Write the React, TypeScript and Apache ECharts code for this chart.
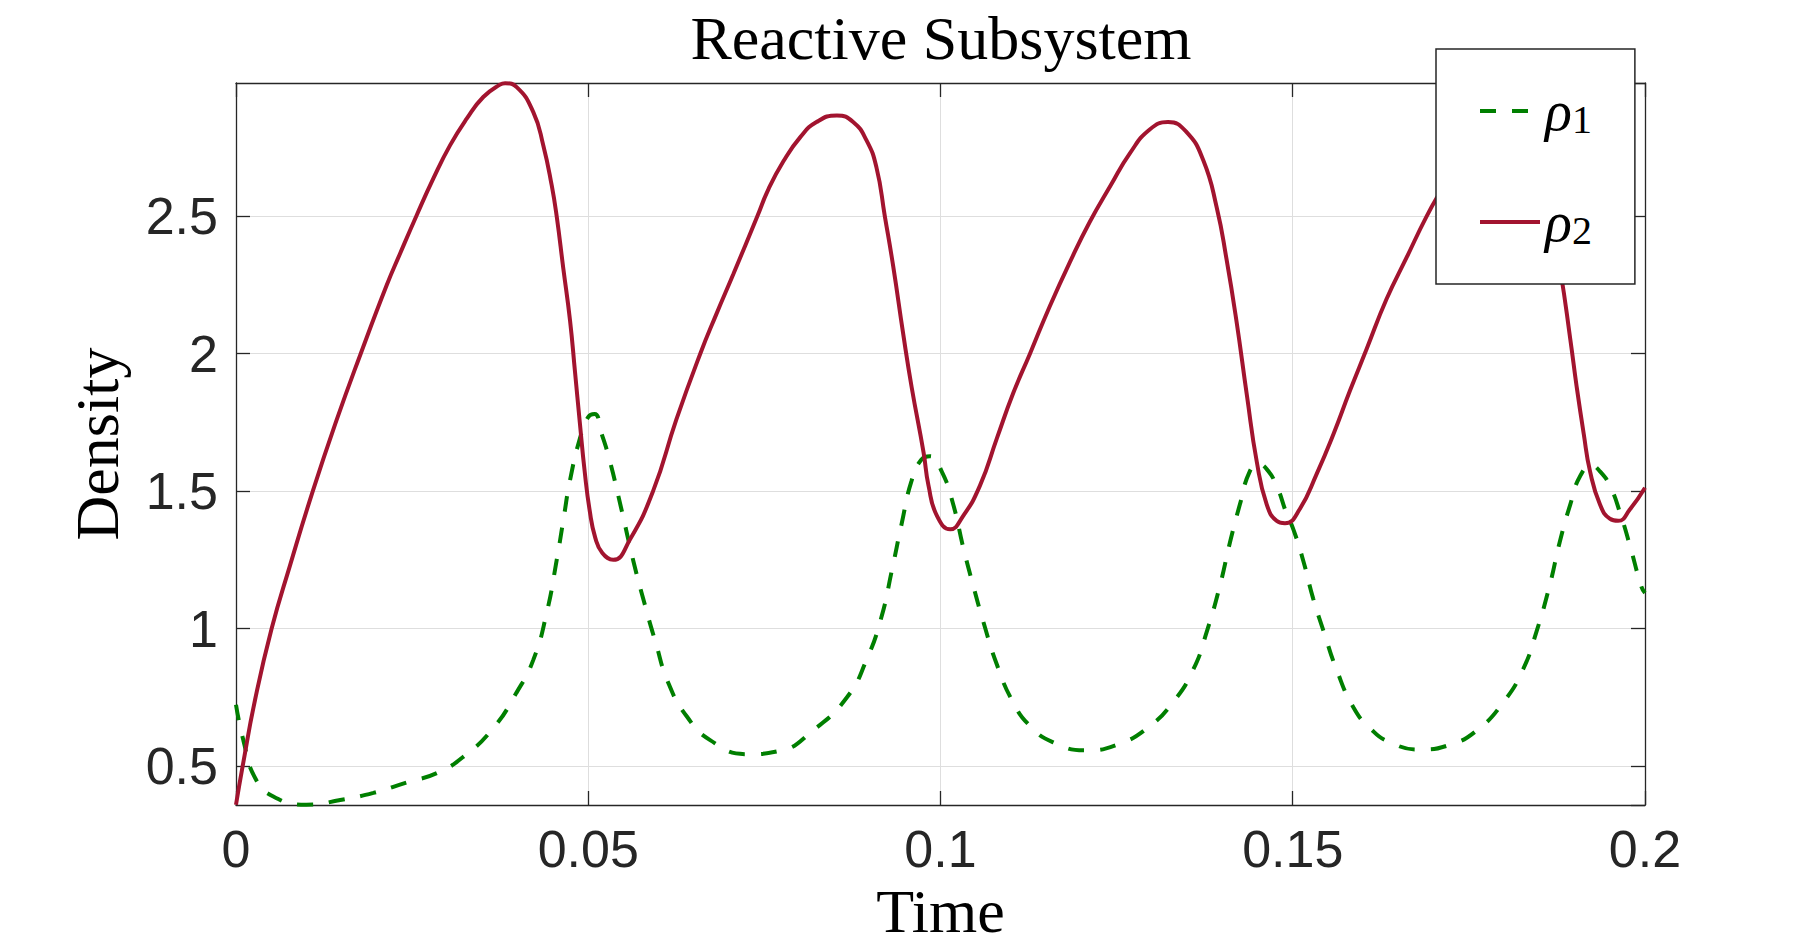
import React, { useEffect, useRef } from "react";
import * as echarts from "echarts";

// ---- data ----
const xTicks = [0, 0.05, 0.1, 0.15, 0.2];

const rho1Time = [
  0, 0.00104, 0.0027, 0.0053, 0.01, 0.0148, 0.0195, 0.0242, 0.0285, 0.0323,
  0.0365, 0.0398, 0.0422, 0.0441, 0.0455, 0.0465, 0.0474, 0.0488, 0.05, 0.0509,
  0.0519, 0.0531, 0.0547, 0.0564, 0.058, 0.0595, 0.0614, 0.064, 0.0673, 0.0725,
  0.0772, 0.0819, 0.0867, 0.0895, 0.0916, 0.0931, 0.0945, 0.0959, 0.0973, 0.0985,
  0.1002, 0.1018, 0.1032, 0.1046, 0.1061, 0.108, 0.1103, 0.1127, 0.116, 0.1207,
  0.125, 0.1293, 0.133, 0.1359, 0.1378, 0.1397, 0.1411, 0.1425, 0.1439, 0.1451,
  0.1463, 0.1477, 0.1491, 0.1501, 0.1515, 0.1529, 0.1544, 0.1562, 0.1586, 0.161,
  0.1638, 0.1681, 0.1723, 0.1761, 0.1799, 0.1827, 0.1846, 0.1865, 0.1879, 0.1894,
  0.1908, 0.1924, 0.1936, 0.195, 0.1965, 0.1979, 0.1995, 0.2,
];
const rho1Values = [
  0.723, 0.594, 0.457, 0.389, 0.359, 0.376, 0.402, 0.44, 0.474, 0.534,
  0.637, 0.766, 0.886, 1.057, 1.246, 1.4, 1.538, 1.69, 1.77, 1.781,
  1.709, 1.606, 1.435, 1.246, 1.09, 0.955, 0.8, 0.68, 0.594, 0.543,
  0.555, 0.629, 0.749, 0.886, 1.04, 1.212, 1.383, 1.538, 1.615, 1.627,
  1.57, 1.452, 1.298, 1.16, 1.023, 0.869, 0.732, 0.646, 0.586, 0.557,
  0.577, 0.637, 0.732, 0.852, 0.989, 1.16, 1.315, 1.452, 1.572, 1.598,
  1.58, 1.52, 1.42, 1.36, 1.246, 1.109, 0.989, 0.852, 0.714, 0.637,
  0.586, 0.56, 0.577, 0.629, 0.732, 0.852, 0.989, 1.16, 1.315, 1.452,
  1.555, 1.593, 1.572, 1.52, 1.418, 1.298, 1.152, 1.13,
];

const rho2Time = [
  0, 0.00095, 0.0027, 0.00506, 0.00766, 0.0109, 0.0143, 0.0177, 0.0214, 0.02328,
  0.02565, 0.028, 0.03038, 0.03275, 0.0351, 0.03747, 0.0382, 0.03984, 0.0422, 0.04362,
  0.04481, 0.04552, 0.04646, 0.04741, 0.04812, 0.0488, 0.0495, 0.0502, 0.051, 0.052,
  0.05355, 0.0559, 0.0592, 0.0625, 0.0659, 0.0682, 0.0706, 0.074, 0.0756, 0.0777,
  0.0801, 0.0824, 0.0853, 0.0876, 0.0895, 0.0909, 0.0921, 0.0933, 0.0947, 0.0959,
  0.0976, 0.0983, 0.0995, 0.1014, 0.1032, 0.1056, 0.108, 0.1103, 0.1127, 0.1155,
  0.1184, 0.1212, 0.1241, 0.1269, 0.1297, 0.1323, 0.1349, 0.1373, 0.1392, 0.1406,
  0.142, 0.1435, 0.1449, 0.1463, 0.1477, 0.1489, 0.151, 0.1534, 0.1558, 0.1581,
  0.1605, 0.1633, 0.1662, 0.169, 0.1712, 0.174, 0.1768, 0.1794, 0.182, 0.1844,
  0.1863, 0.188, 0.1894, 0.1903, 0.1913, 0.1922, 0.1936, 0.195, 0.1962, 0.1979,
  0.2,
];
const rho2Values = [
  0.359, 0.5, 0.74, 1.0, 1.229, 1.5, 1.76, 2.0, 2.25, 2.364,
  2.504, 2.637, 2.758, 2.855, 2.934, 2.979, 2.984, 2.97, 2.879, 2.758,
  2.613, 2.5, 2.31, 2.122, 1.934, 1.75, 1.57, 1.43, 1.33, 1.275,
  1.25, 1.323, 1.5, 1.76, 2.0, 2.145, 2.29, 2.5, 2.6, 2.7,
  2.788, 2.843, 2.867, 2.843, 2.776, 2.679, 2.5, 2.316, 2.073, 1.879,
  1.64, 1.52, 1.41, 1.361, 1.409, 1.52, 1.692, 1.855, 2.0, 2.172,
  2.335, 2.48, 2.61, 2.73, 2.816, 2.843, 2.807, 2.704, 2.533, 2.344,
  2.121, 1.847, 1.606, 1.452, 1.392, 1.383, 1.435, 1.563, 1.709, 1.864,
  2.018, 2.198, 2.352, 2.5, 2.6, 2.72, 2.81, 2.84, 2.807, 2.704,
  2.533, 2.3, 2.052, 1.88, 1.709, 1.572, 1.452, 1.4, 1.392, 1.435,
  1.512,
];

const yMin = 0.358;
const yMax = 2.985;
const seriesNames = ["ρ1", "ρ2"];
const colors = ["#007F00", "#A2142F"];

const AXIS = "#262626";
const SERIF = "'Liberation Serif', 'Times New Roman', serif";
const SANS = "'Liberation Sans', Arial, Helvetica, sans-serif";
const LINE_W = 4;
const DASH = [16, 16];

function pairs(t: number[], v: number[]) {
  return t.map((x, i) => [x, v[i]]);
}

export default function App() {
  const ref = useRef<HTMLDivElement>(null);

  useEffect(() => {
    if (!ref.current) return;
    const chart = echarts.init(ref.current, undefined, { renderer: "svg" });

    const tickStyle = { color: AXIS, width: 1.3 };
    const option: any = {
      animation: false,
      backgroundColor: "#ffffff",
      title: {
        text: "Reactive Subsystem",
        left: 936,
        top: 2,
        textAlign: "center",
        textStyle: {
          fontFamily: SERIF,
          fontSize: 62,
          fontWeight: "normal",
          color: "#000000",
        },
      },
      grid: { left: 236, top: 83, width: 1409, height: 722, containLabel: false },
      legend: {
        orient: "vertical",
        left: 1436,
        top: 49,
        padding: [34, 43, 34, 42],
        itemGap: 55,
        itemWidth: 60,
        itemHeight: 20,
        backgroundColor: "#ffffff",
        borderColor: AXIS,
        borderWidth: 1.5,
        data: [
          {
            name: seriesNames[0],
            itemStyle: { opacity: 0 },
            lineStyle: { color: colors[0], width: LINE_W, type: DASH },
          },
          {
            name: seriesNames[1],
            itemStyle: { opacity: 0 },
            lineStyle: { color: colors[1], width: LINE_W, type: "solid" },
          },
        ],
        formatter: (name: string) => `{r|ρ}{s|${name.slice(1)}}`,
        textStyle: {
          color: "#000000",
          rich: {
            r: {
              fontFamily: SERIF,
              fontStyle: "italic",
              fontSize: 56,
              lineHeight: 56,
              color: "#000000",
            },
            s: {
              fontFamily: SERIF,
              fontSize: 40,
              lineHeight: 36,
              verticalAlign: "bottom",
              color: "#000000",
            },
          },
        },
      },
      xAxis: [
        {
          type: "value",
          min: 0,
          max: 0.2,
          interval: 0.05,
          name: "Time",
          nameLocation: "middle",
          nameGap: 73,
          nameTextStyle: { fontFamily: SERIF, fontSize: 62, color: "#000000" },
          axisLine: { show: true, onZero: false, lineStyle: tickStyle },
          axisTick: { show: true, inside: true, length: 14, lineStyle: tickStyle },
          axisLabel: {
            show: true,
            margin: 18,
            fontFamily: SANS,
            fontSize: 52,
            color: AXIS,
            formatter: (v: number) => {
              const t = xTicks.find((x) => Math.abs(x - v) < 1e-9);
              return t === undefined ? "" : String(t);
            },
          },
          splitLine: { show: true, lineStyle: { color: "#dedede", width: 1 } },
        },
        {
          type: "value",
          position: "top",
          min: 0,
          max: 0.2,
          interval: 0.05,
          axisLine: { show: true, onZero: false, lineStyle: tickStyle },
          axisTick: { show: true, inside: true, length: 14, lineStyle: tickStyle },
          axisLabel: { show: false },
          splitLine: { show: false },
        },
      ],
      yAxis: [
        {
          type: "value",
          min: yMin,
          max: yMax,
          splitNumber: 5,
          name: "Density",
          nameLocation: "middle",
          nameGap: 108,
          nameTextStyle: { fontFamily: SERIF, fontSize: 62, color: "#000000" },
          axisLine: { show: true, onZero: false, lineStyle: tickStyle },
          axisTick: { show: true, inside: true, length: 14, lineStyle: tickStyle },
          axisLabel: {
            show: true,
            margin: 18,
            fontFamily: SANS,
            fontSize: 52,
            color: AXIS,
            showMinLabel: false,
            showMaxLabel: false,
          },
          splitLine: { show: true, lineStyle: { color: "#dedede", width: 1 } },
        },
        {
          type: "value",
          position: "right",
          min: yMin,
          max: yMax,
          splitNumber: 5,
          axisLine: { show: true, onZero: false, lineStyle: tickStyle },
          axisTick: { show: true, inside: true, length: 14, lineStyle: tickStyle },
          axisLabel: { show: false },
          splitLine: { show: false },
        },
      ],
      series: [
        {
          name: seriesNames[0],
          type: "line",
          data: pairs(rho1Time, rho1Values),
          symbol: "none",
          smooth: 0.5,
          clip: true,
          lineStyle: { color: colors[0], width: LINE_W, type: DASH },
          itemStyle: { color: colors[0] },
        },
        {
          name: seriesNames[1],
          type: "line",
          data: pairs(rho2Time, rho2Values),
          symbol: "none",
          smooth: 0.5,
          clip: true,
          lineStyle: { color: colors[1], width: LINE_W, type: "solid" },
          itemStyle: { color: colors[1] },
        },
      ],
    };

    chart.setOption(option);
    return () => chart.dispose();
  }, []);

  return (
    <div
      ref={ref}
      style={{ position: "fixed", left: 0, top: 0, width: 1818, height: 952, background: "#fff" }}
    />
  );
}
